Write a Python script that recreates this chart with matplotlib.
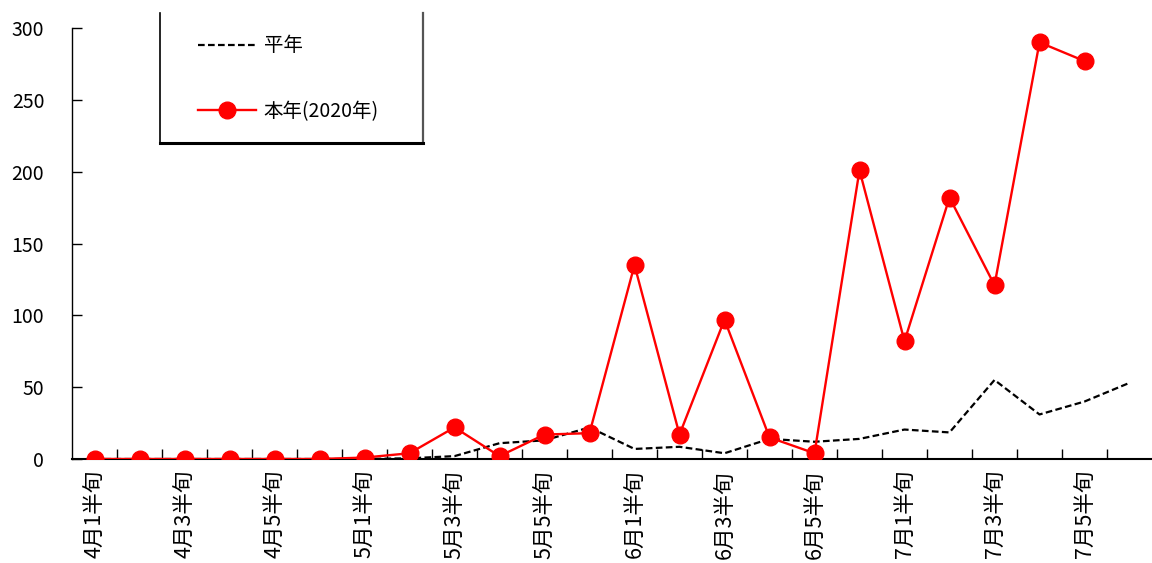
import matplotlib
matplotlib.use("Agg")
import matplotlib.pyplot as plt
from matplotlib.lines import Line2D

plt.rcParams['font.family'] = ['Noto Sans CJK JP', 'DejaVu Sans']

# categories: 4月1半旬 .. 7月6半旬
months = [4, 5, 6, 7]
categories = [f"{m}月{k}半旬" for m in months for k in range(1, 7)]

heinen = [0, 0, 0, 0, 0, 0, 0, 0.5, 2, 11, 13, 22,
          7, 8.5, 4, 14, 12, 14, 20.5, 18.5, 55, 31, 40, 53]
honnen = [0, 0, 0, 0, 0, 0, 1, 4, 22, 2, 17, 18,
          135, 17, 97, 15, 4, 201, 82, 182, 121, 290, 277]

y_ticks = [0, 50, 100, 150, 200, 250, 300]

W, H = 1152, 563
fig = plt.figure(figsize=(W / 100, H / 100), dpi=100)
ax = fig.add_axes([72 / W, 1 - 459 / H, 1 - 72 / W, (459 - 28) / H])

x_all = list(range(len(categories)))
ax.plot(x_all, heinen, color='black', lw=1.6, dashes=(3, 1.5), zorder=2)
ax.plot(x_all[:len(honnen)], honnen, color='red', lw=1.7,
        marker='o', markersize=12, zorder=3)

ax.set_xlim(-0.5, len(categories) - 0.5)
ax.set_ylim(0, 300)
ax.set_yticks(y_ticks)
ax.tick_params(axis='y', direction='in', length=7, width=1, pad=20, labelsize=14)

ax.set_xticks(x_all)
ax.set_xticklabels([c if i % 2 == 0 else '' for i, c in enumerate(categories)],
                   rotation=90, fontsize=15.5)
ax.tick_params(axis='x', which='major', length=0, pad=8)
ax.set_xticks([i + 0.5 for i in range(len(categories) - 1)], minor=True)
ax.tick_params(axis='x', which='minor', direction='in', length=7, width=1)

for s in ['top', 'right']:
    ax.spines[s].set_visible(False)
ax.spines['left'].set_linewidth(1)
ax.spines['bottom'].set_linewidth(1.5)

# legend box: left, right and bottom edges only (top is cut off)
x0, x1 = 160 / W, 423 / W
y_top, y_bot = 1 - 13 / H, 1 - 143 / H
fig.add_artist(Line2D([x0, x0], [y_bot, y_top], transform=fig.transFigure,
                      color='black', lw=1.2))
fig.add_artist(Line2D([x1, x1], [y_bot, y_top], transform=fig.transFigure,
                      color='#555555', lw=1.6))
fig.add_artist(Line2D([x0, x1], [y_bot, y_bot], transform=fig.transFigure,
                      color='black', lw=2.2))

handles = [Line2D([], [], color='black', lw=1.6, dashes=(3, 1.5)),
           Line2D([], [], color='red', lw=1.7, marker='o', markersize=12)]
fig.legend(handles, ['平年', '本年(2020年)'], loc='upper left',
           bbox_to_anchor=(180 / W, 1 - 18 / H), frameon=False,
           fontsize=14, handlelength=3.0, handletextpad=0.4, labelspacing=2.3)

fig.savefig('out.png', dpi=100)
